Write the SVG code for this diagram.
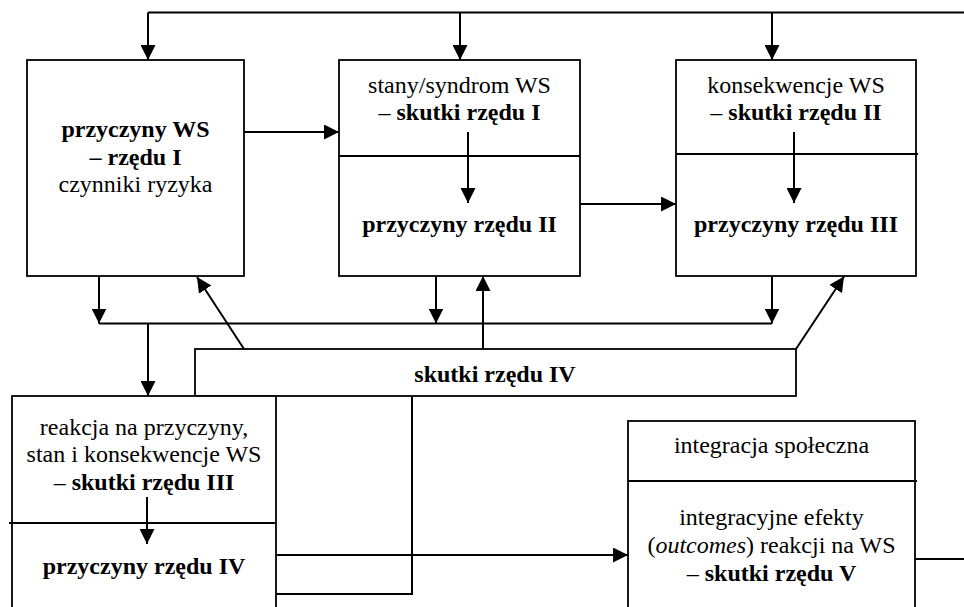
<svg xmlns="http://www.w3.org/2000/svg" width="964" height="607" viewBox="0 0 964 607">
<defs>
<style>
.box{fill:#fff;stroke:#000;stroke-width:1.8}
.div{fill:none;stroke:#000;stroke-width:1.8}
.c{fill:none;stroke:#000;stroke-width:2}
.a{fill:none;stroke:#000;stroke-width:2;marker-end:url(#ah)}
.t{font-family:'Liberation Serif','Times New Roman','DejaVu Serif',serif;font-size:24px;fill:#000;text-anchor:middle}
.b{font-weight:bold}
</style>
<marker id="ah" viewBox="0 0 15 15" markerWidth="15" markerHeight="15" refX="15" refY="7.5" orient="auto" markerUnits="userSpaceOnUse">
<path d="M0,0 L15,7.5 L0,15 z" fill="#000"/>
</marker>
</defs>
<rect width="964" height="607" fill="#fff"/>

<g id="box1" class="t" font-family="Liberation Serif, Times New Roman, serif">
<rect class="box" x="27" y="60" width="217" height="216"/>
<text x="135.5" y="137" class="b">przyczyny WS</text>
<text x="135.5" y="165" class="b">– rzędu I</text>
<text x="135.5" y="192">czynniki ryzyka</text>
</g>

<g id="box2" class="t" font-family="Liberation Serif, Times New Roman, serif">
<rect class="box" x="339" y="60" width="241" height="216"/>
<line class="div" x1="339" y1="156" x2="580" y2="156"/>
<text x="459.5" y="93">stany/syndrom WS</text>
<text x="459.5" y="120">– <tspan class="b">skutki rzędu I</tspan></text>
<text x="459.5" y="232" class="b">przyczyny rzędu II</text>
</g>

<g id="box3" class="t" font-family="Liberation Serif, Times New Roman, serif">
<rect class="box" x="676" y="60" width="240" height="216"/>
<line class="div" x1="676" y1="154" x2="918" y2="154"/>
<text x="796" y="93">konsekwencje WS</text>
<text x="796" y="120">– <tspan class="b">skutki rzędu II</tspan></text>
<text x="796" y="232" class="b">przyczyny rzędu III</text>
</g>

<g id="box-skutki4" class="t" font-family="Liberation Serif, Times New Roman, serif">
<rect class="box" x="195" y="349" width="601" height="47"/>
<text x="495" y="382" class="b">skutki rzędu IV</text>
</g>

<g id="box4" class="t" font-family="Liberation Serif, Times New Roman, serif">
<rect class="box" x="12" y="396" width="264" height="230"/>
<line class="div" x1="9" y1="523" x2="276" y2="523"/>
<text x="144" y="435">reakcja na przyczyny,</text>
<text x="144" y="462">stan i konsekwencje WS</text>
<text x="144" y="490">– <tspan class="b">skutki rzędu III</tspan></text>
<text x="144" y="574" class="b">przyczyny rzędu IV</text>
</g>

<g id="box5" class="t" font-family="Liberation Serif, Times New Roman, serif">
<rect class="box" x="628" y="421" width="287" height="205"/>
<line class="div" x1="628" y1="481" x2="917" y2="481"/>
<text x="771.5" y="453">integracja społeczna</text>
<text x="771.5" y="525">integracyjne efekty</text>
<text x="771.5" y="553">(<tspan font-style="italic">outcomes</tspan>) reakcji na WS</text>
<text x="771.5" y="581">– <tspan class="b">skutki rzędu V</tspan></text>
</g>

<g id="connectors">
<path class="c" d="M148,12.5 H964"/>
<path class="a" d="M148,12.5 V60"/>
<path class="a" d="M460,12.5 V60"/>
<path class="a" d="M772,12.5 V60"/>
<path class="a" d="M244,132 H339"/>
<path class="a" d="M580,204 H676"/>
<path class="a" d="M468,132 V203"/>
<path class="a" d="M794,132 V203"/>
<path class="c" d="M99,323.5 H772"/>
<path class="a" d="M99,276 V323.5"/>
<path class="a" d="M436,276 V323.5"/>
<path class="a" d="M772,276 V323.5"/>
<path class="a" d="M148,323.5 V396"/>
<path class="a" d="M244,349 L197,277"/>
<path class="a" d="M483,349 V276"/>
<path class="a" d="M796,349 L844,276.5"/>
<path class="a" d="M147,497 V544"/>
<path class="a" d="M276,555 H628"/>
<path class="c" d="M276,594 H412 V396"/>
<path class="c" d="M915,559 H964"/>
</g>
</svg>
